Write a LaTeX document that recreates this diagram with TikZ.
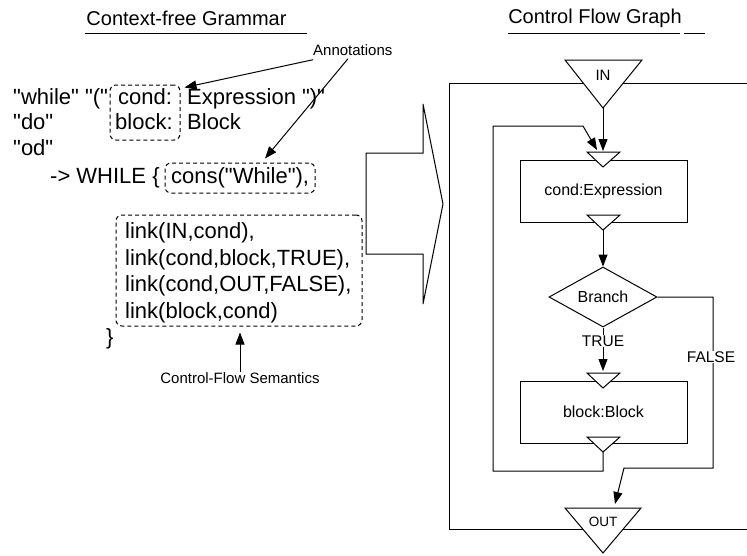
\documentclass[tikz,border=0pt]{standalone}
\usepackage{fontspec}
\setmainfont{Liberation Sans}
\newfontfamily\hv{Liberation Sans}
\usetikzlibrary{arrows.meta,shapes.geometric,calc}
\begin{document}
\begin{tikzpicture}[x=1pt,y=-1pt,
  ln/.style={line width=1pt},
  arr/.style={line width=1pt,-{Triangle[length=12pt,width=9pt]}},
  dbox/.style={draw,dash pattern=on 4pt off 3pt,rounded corners=6pt,line width=1pt,inner sep=0pt},
  big/.style={font=\hv\fontsize{22}{26}\selectfont,inner sep=0pt},
  ttl/.style={font=\hv\fontsize{20}{24}\selectfont,inner sep=0pt},
  sml/.style={font=\hv\fontsize{15}{18}\selectfont,inner sep=0pt},
  tri/.style={draw,fill=white,line width=1pt,line join=miter},
  box/.style={draw,line width=1pt,inner sep=0pt,minimum width=167pt,minimum height=62pt,font=\hv\fontsize{16}{19}\selectfont},
  lbl/.style={font=\hv\fontsize{15.5}{18}\selectfont,fill=white,inner sep=1pt},
  ]
\useasboundingbox (0,0) rectangle (747,555);

% ---------- titles ----------
\node[ttl] (t1) at (186.5,18) {Context-free Grammar};
\draw[ln] (85,33) -- (307,33);
\node[ttl] (t2) at (595,18) {Control Flow Graph};
\draw[ln] (508,33) -- (680,33);
\draw[ln] (684,33) -- (705,33);

% ---------- grammar text ----------
\node[dbox,minimum width=70pt,minimum height=55pt] (condbox) at (145,112.5) {};
\node[dbox,minimum width=150pt,minimum height=30pt] (consbox) at (240,178) {};
\node[dbox,minimum width=246pt,minimum height=111pt] (linksbox) at (239,270.5) {};

\node[big,anchor=base west] (l1a) at (13,104) {"while" "("};
\node[big,anchor=base west] (l1b) at (118,104) {cond:};
\node[big,anchor=base west] (l1c) at (187,104) {Expression ")"};
\node[big,anchor=base west] (l2a) at (13,129.5) {"do"};
\node[big,anchor=base west] (l2b) at (115,129.5) {block:};
\node[big,anchor=base west] (l2c) at (187,129.5) {Block};
\node[big,anchor=base west] (l3) at (13,155) {"od"};
\node[big,anchor=base west] (l4a) at (50,183) {-> WHILE \{};
\node[big,anchor=base west] (l4b) at (171,183) {cons("While"),};
\node[big,anchor=base west] (k1) at (125,238.5) {link(IN,cond),};
\node[big,anchor=base west] (k2) at (125,265) {link(cond,block,TRUE),};
\node[big,anchor=base west] (k3) at (125,291.5) {link(cond,OUT,FALSE),};
\node[big,anchor=base west] (k4) at (125,318) {link(block,cond)};
\node[big,anchor=base west] (brace) at (106,344) {\}};

% ---------- annotations ----------
\node[sml,anchor=west] (ann) at (313,50) {Annotations};
\draw[arr] ($(ann.south west)+(0,4)$) -- ($(condbox.north east)+(4,3)$);
\draw[arr] ($(ann.south west)+(35,3)$) -- ($(consbox.north)+(25,-4)$);
\node[sml] (cfs) at (240,378) {Control-Flow Semantics};
\draw[arr] (cfs.north) -- ($(linksbox.south)+(1,6)$);

% ---------- big arrow ----------
\draw[ln,line join=miter] (366,153) -- (423,153) -- (423,104) -- (443,204)
  -- (423,304) -- (423,254) -- (366,254) -- cycle;

% ---------- control flow graph ----------
\draw[ln] (747,83) -- (449,83) -- (449,529) -- (747,529);

\draw[tri] (565,60) -- (642,60) -- (603,108) -- cycle;
\node[sml] (in) at (603,75) {IN};
\coordinate (inTip) at (603,108);

\node[box] (cond) at (603.5,191.5) {cond:Expression};
\draw[tri] (587,152) -- (620,152) -- (603,167) -- cycle;
\coordinate (condIn) at (603,151);
\coordinate (condInL) at (597,150);
\draw[tri] (587,215) -- (620,215) -- (603,230) -- cycle;
\coordinate (condOut) at (603,230);

\node[diamond,draw,line width=1pt,aspect=2,inner sep=0pt,minimum width=108pt,minimum height=60pt,font=\hv\fontsize{16}{19}\selectfont] (br) at (603,297) {Branch};

\node[box] (block) at (603.5,412) {block:Block};
\draw[tri] (587,373) -- (620,373) -- (603,388) -- cycle;
\coordinate (blockIn) at (603,371);
\draw[tri] (587,437) -- (620,437) -- (603,452) -- cycle;
\coordinate (blockOut) at (603,452);

\draw[tri] (565,508) -- (641,508) -- (603,553) -- cycle;
\node[font=\hv\fontsize{13.5}{16}\selectfont,inner sep=0pt] (out) at (603,522) {OUT};
\coordinate (outIn) at (615,504);

\draw[arr] (inTip) -- (condIn);
\draw[arr] (blockOut) -- (603,471) -- (493,471) -- (493,126) -- (583,126) -- (condInL);
\draw[arr] (condOut) -- (br.north);
\draw[arr] (br.south) -- (blockIn);
\node[lbl] (tr) at (603,341) {TRUE};
\draw[arr] (br.east) -- (713,297) -- (713,468) -- (624,468) -- (outIn);
\node[lbl] (fa) at (711,357) {FALSE};
\end{tikzpicture}
\end{document}
